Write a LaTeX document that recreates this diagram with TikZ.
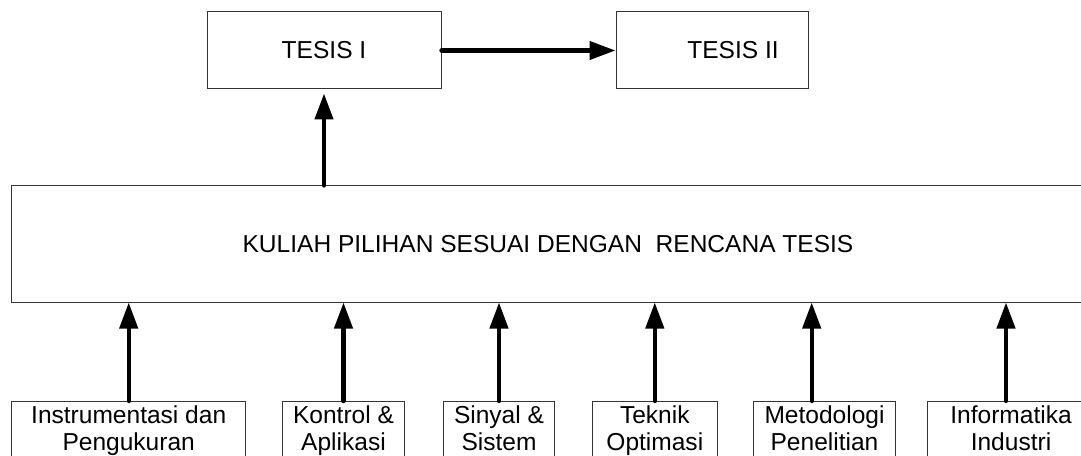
\documentclass[tikz,border=0pt]{standalone}
\usepackage{fontspec}
\setmainfont{Liberation Sans}
\usetikzlibrary{arrows.meta}
\newcommand\topstrutx{\rule{0pt}{16.5pt}}
\newcommand\botstrutx{\rule[-12pt]{0pt}{12pt}}
\begin{document}
\begin{tikzpicture}[x=0.75pt,y=-0.75pt,
  box/.style={draw=black!80,line width=0.75pt,rectangle,inner sep=0pt,align=center,
    font=\fontsize{18.4pt}{20.25pt}\selectfont},
  small/.style={box,anchor=north},
  arr/.style={line width=3.2pt,line cap=round,-{Triangle[length=19.5pt,width=13.5pt]}},
]
\useasboundingbox (0,0) rectangle (1081,456);
\clip (0,0) rectangle (1081,456);
% top boxes
\node[box,minimum width=175.5pt,minimum height=57.75pt] (t1) at (324,50.5) {TESIS I};
\node[box,minimum width=144pt,minimum height=57.75pt] (t2) at (712,50.5) {\hspace*{31.5pt}TESIS II};
% big box
\node[box,minimum width=804.5pt,minimum height=87pt] (big) at (548,244) {KULIAH PILIHAN SESUAI DENGAN~ RENCANA TESIS};
% bottom boxes
\node[small,minimum width=175.5pt] (b1) at (128.7,401) {\topstrutx Instrumentasi dan\\Pengukuran\botstrutx};
\node[small,minimum width=91.2pt] (b2) at (343.5,401) {\topstrutx Kontrol \&\\Aplikasi\botstrutx};
\node[small,minimum width=83.8pt] (b3) at (499,401) {\topstrutx Sinyal \&\\Sistem\botstrutx};
\node[small,minimum width=93.8pt] (b4) at (654.8,401) {\topstrutx Teknik\\Optimasi\botstrutx};
\node[small,minimum width=106.8pt] (b5) at (824.5,401) {\topstrutx Metodologi\\Penelitian\botstrutx};
\node[small,minimum width=125pt] (b6) at (1011,401) {\topstrutx Informatika\\Industri\botstrutx};
% connectors
\draw[arr] (t1.east) -- (t2.west);
\draw[arr,shorten >=3pt] (t1.south |- big.north) -- (t1.south);
\draw[arr] (b1.north) -- (b1.north |- big.south);
\draw[arr] (b2.north) -- (b2.north |- big.south);
\draw[arr] (b3.north) -- (b3.north |- big.south);
\draw[arr] (b4.north) -- (b4.north |- big.south);
\draw[arr] ([xshift=-9.6pt]b5.north) -- ([xshift=-9.6pt]b5.north |- big.south);
\draw[arr] ([xshift=-3.75pt]b6.north) -- ([xshift=-3.75pt]b6.north |- big.south);
\end{tikzpicture}
\end{document}
